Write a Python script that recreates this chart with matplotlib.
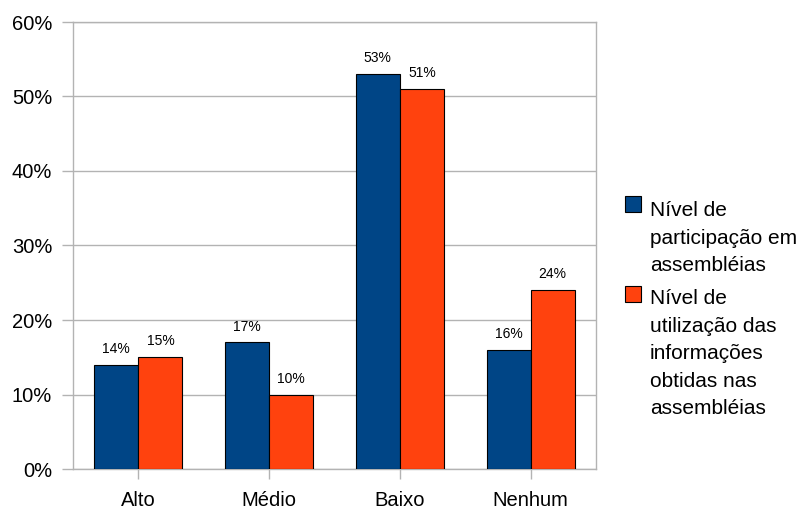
import matplotlib.pyplot as plt
import numpy as np
from matplotlib.patches import Rectangle

plt.rcParams['font.family'] = ['Liberation Sans', 'DejaVu Sans']

# dados do grafico (%)
categorias = ['Alto', 'Médio', 'Baixo', 'Nenhum']
participacao = [14, 17, 53, 16]
utilizacao = [15, 10, 51, 24]
rotulos = ['Nível de\nparticipação em\nassembléias',
           'Nível de\nutilização das\ninformações\nobtidas nas\nassembléias']
cores = ['#004586', '#ff420e']

fig = plt.figure(figsize=(8.05, 5.11), dpi=100)
ax = fig.add_axes([73 / 805, 42 / 511, 523 / 805, 447 / 511])

x = np.arange(len(categorias))
w = 0.337
series = [participacao, utilizacao]
for i, vals in enumerate(series):
    pos = x + (i - 0.5) * w
    bars = ax.bar(pos, vals, w, color=cores[i], edgecolor='black', linewidth=0.8, zorder=3)
    for b, v in zip(bars, vals):
        ax.annotate('%d%%' % v, (b.get_x() + b.get_width() / 2, v),
                    xytext=(0, 8.5), textcoords='offset points',
                    ha='center', va='baseline', fontsize=10)

ax.set_xlim(-0.5, 3.5)
ax.set_ylim(0, 60)
ax.set_yticks(range(0, 61, 10))
ax.set_yticklabels(['%d%%' % t for t in range(0, 61, 10)])
ax.set_xticks(x)
ax.set_xticklabels(categorias)
ax.yaxis.grid(True, color='#b3b3b3', linewidth=1, zorder=0)
for s in ax.spines.values():
    s.set_color('#b3b3b3')
    s.set_linewidth(1)
ax.tick_params(axis='y', length=8, width=1, color='#b3b3b3', pad=7, labelsize=14.5)
ax.tick_params(axis='x', length=7, width=1, color='#b3b3b3', pad=8.5, labelsize=14.5)

# legenda desenhada a mao, uma linha de texto por vez
linha = 27.5
topo_caixa = [196, 286]
base_texto = [216, 304]
for i, rot in enumerate(rotulos):
    y0 = topo_caixa[i]
    fig.patches.append(Rectangle((625 / 805, 1 - (y0 + 16) / 511), 16 / 805, 16 / 511,
                                 transform=fig.transFigure, facecolor=cores[i],
                                 edgecolor='black', linewidth=0.8))
    for k, txt in enumerate(rot.split('\n')):
        yb = base_texto[i] + k * linha
        fig.text(650 / 805, 1 - yb / 511, txt, fontsize=15, va='baseline', ha='left')

fig.savefig('out.png', dpi=100)
